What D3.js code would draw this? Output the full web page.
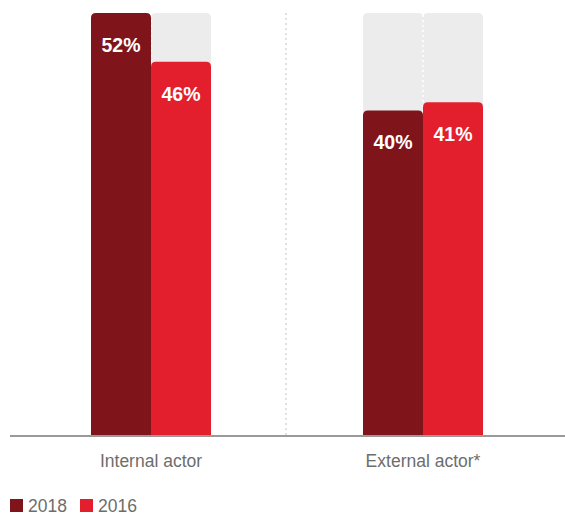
<!DOCTYPE html>
<html><head><meta charset="utf-8">
<script src="https://cdn.jsdelivr.net/npm/d3@7"></script>
<style>body{margin:0;background:#fff;font-family:Helvetica,Arial,"Liberation Sans",sans-serif}</style>
</head><body>
<svg id="c" width="565" height="517"></svg>
<script>
const categories = ["Internal actor", "External actor*"];
const seriesNames = ["2018", "2016"];
const values2018 = [52, 40];
const values2016 = [46, 41];
const colors = ["#7f141b", "#e31e2d"];

const svg = d3.select("#c");
const baseY = 435, topY = 13;
const maxV = d3.max(values2018.concat(values2016));
const y = d3.scaleLinear().domain([0, maxV]).range([baseY, topY]);
const x0 = d3.scaleBand().domain(categories).range([15, 559]).paddingInner(0).paddingOuter(0);
const x1 = d3.scaleBand().domain(seriesNames).range([0, 120]);
const groupW = 120;
const offset = (x0.bandwidth() - groupW) / 2;

function roundTop(x, yt, w, h, r) {
  return `M${x},${yt + h}V${yt + r}Q${x},${yt} ${x + r},${yt}H${x + w - r}Q${x + w},${yt} ${x + w},${yt + r}V${yt + h}Z`;
}

// divider
svg.append("line").attr("x1", 286).attr("x2", 286).attr("y1", topY).attr("y2", baseY)
  .attr("stroke", "#d8d8d8").attr("stroke-width", 1.5).attr("stroke-dasharray", "2,3");

const data = categories.map((c, i) => ({ cat: c, vals: [values2018[i], values2016[i]] }));
const g = svg.selectAll("g.grp").data(data).join("g")
  .attr("transform", d => `translate(${x0(d.cat) + offset},0)`);

// background bars
g.selectAll("path.bg").data(seriesNames).join("path")
  .attr("d", s => roundTop(x1(s), y(maxV), x1.bandwidth(), baseY - y(maxV), 5))
  .attr("fill", "#ececec");
g.append("line").attr("x1", x1("2016")).attr("x2", x1("2016"))
  .attr("y1", y(maxV) + 2).attr("y2", baseY)
  .attr("stroke", "#fff").attr("stroke-width", 1.5).attr("stroke-dasharray", "2,3");

g.selectAll("path.bar").data(d => d.vals.map((v, i) => ({ v, s: seriesNames[i], c: colors[i] })))
  .join("path")
  .attr("d", d => roundTop(x1(d.s), y(d.v), x1.bandwidth(), baseY - y(d.v), 5))
  .attr("fill", d => d.c);

g.selectAll("text.lab").data(d => d.vals.map((v, i) => ({ v, s: seriesNames[i] })))
  .join("text")
  .attr("x", d => x1(d.s) + x1.bandwidth() / 2)
  .attr("y", d => y(d.v) + 39)
  .attr("text-anchor", "middle").attr("fill", "#fff")
  .attr("font-size", 19.5).attr("font-weight", "bold")
  .text(d => d.v + "%");

// axis
svg.append("line").attr("x1", 10).attr("x2", 565).attr("y1", baseY + 1).attr("y2", baseY + 1)
  .attr("stroke", "#9a9a9a").attr("stroke-width", 2);

svg.selectAll("text.cat").data(categories).join("text")
  .attr("x", d => x0(d) + x0.bandwidth() / 2)
  .attr("y", 467).attr("text-anchor", "middle")
  .attr("fill", "#6d6d6d").attr("font-size", 17.5).text(d => d);

// legend
const leg = svg.selectAll("g.leg").data(seriesNames).join("g")
  .attr("transform", (d, i) => `translate(${10 + i * 70},499)`);
leg.append("rect").attr("width", 13).attr("height", 13).attr("fill", (d, i) => colors[i]);
leg.append("text").attr("x", 18).attr("y", 13).attr("fill", "#6d6d6d").attr("font-size", 17.5).text(d => d);
</script>
</body></html>
